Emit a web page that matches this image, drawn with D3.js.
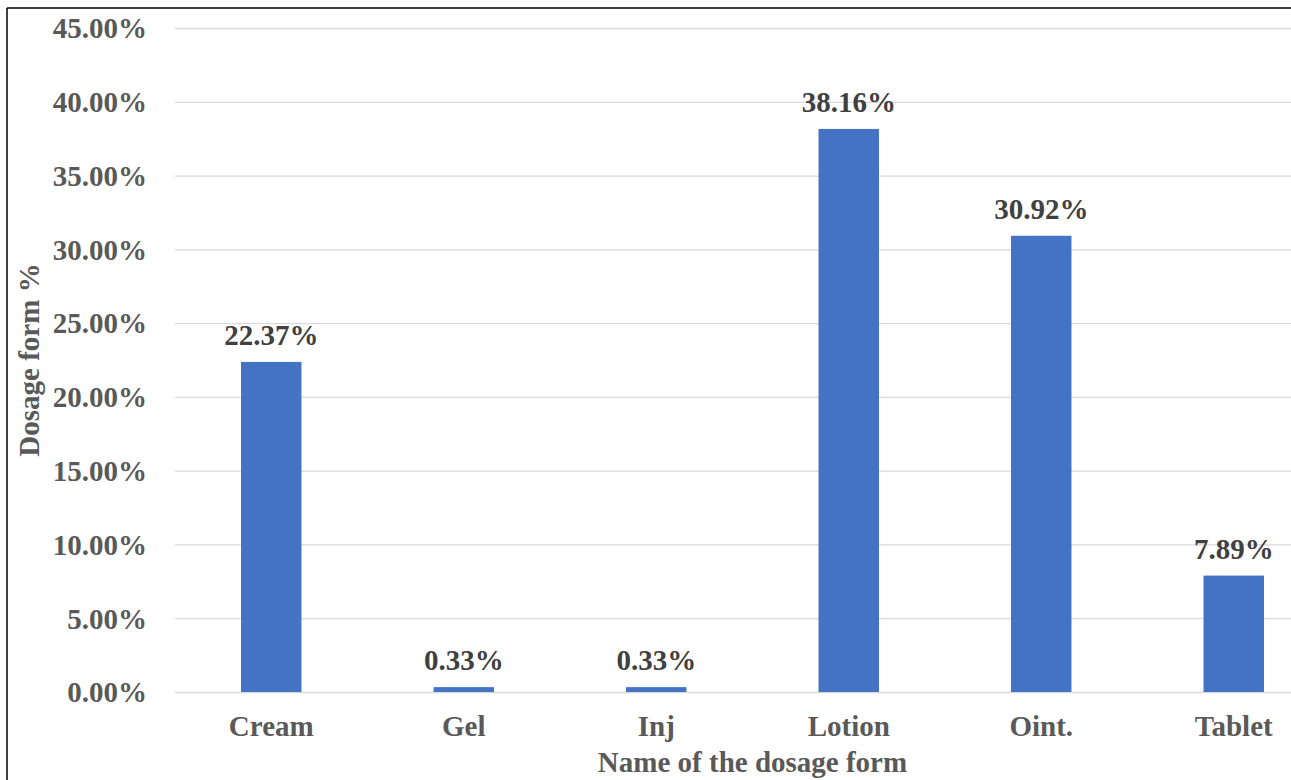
<!DOCTYPE html>
<html>
<head>
<meta charset="utf-8">
<script src="https://cdn.jsdelivr.net/npm/d3@7"></script>
<style>
  html, body { margin: 0; padding: 0; background: #fff; }
  svg { display: block; }
  text { font-family: "Liberation Serif", "Times New Roman", serif; font-weight: bold; }
</style>
</head>
<body>
<script>
// Share of each dosage form
const categories = ["Cream", "Gel", "Inj", "Lotion", "Oint.", "Tablet"];
const values = [22.37, 0.33, 0.33, 38.16, 30.92, 7.89];
const yTicks = [0, 5, 10, 15, 20, 25, 30, 35, 40, 45];
const yTitle = "Dosage form %";
const xTitle = "Name of the dosage form";

const W = 1291, H = 780;
const svg = d3.select("body").append("svg").attr("width", W).attr("height", H);

// Plot area (continues past the right edge of the frame)
const plot = { left: 175, right: 1330, top: 28, bottom: 692 };

const x = d3.scaleBand()
  .domain(categories)
  .range([plot.left, plot.right])
  .paddingInner(0.686)
  .paddingOuter(0.343);

const y = d3.scaleLinear().domain([0, 45]).range([plot.bottom, plot.top]);

// Outer frame
svg.append("line").attr("x1", 7).attr("x2", W).attr("y1", 8).attr("y2", 8)
  .attr("stroke", "#000").attr("stroke-width", 1.5);
svg.append("line").attr("x1", 7).attr("x2", 7).attr("y1", 8).attr("y2", H)
  .attr("stroke", "#000").attr("stroke-width", 1.5);

// Horizontal gridlines and y tick labels
const yAxis = d3.axisLeft(y)
  .tickValues(yTicks)
  .tickSize(-(plot.right - plot.left))
  .tickPadding(28)
  .tickFormat(d => d.toFixed(2) + "%");

const gy = svg.append("g").attr("transform", `translate(${plot.left},0)`).call(yAxis);
gy.select(".domain").remove();
gy.selectAll(".tick line").attr("stroke", "#d9d9d9").attr("stroke-width", 1.3);
gy.selectAll(".tick text")
  .attr("fill", "#595959")
  .style("font-size", "29px")
  .style("font-family", "'Liberation Serif', 'Times New Roman', serif")
  .style("font-weight", "bold")
  .attr("dy", "0.34em");

// Bars
svg.append("g").selectAll("rect")
  .data(categories)
  .join("rect")
  .attr("x", d => x(d))
  .attr("width", x.bandwidth())
  .attr("y", (d, i) => y(values[i]))
  .attr("height", (d, i) => y(0) - y(values[i]))
  .attr("fill", "#4472C4");

// Value labels above bars
svg.append("g").selectAll("text")
  .data(categories)
  .join("text")
  .attr("x", d => x(d) + x.bandwidth() / 2)
  .attr("y", (d, i) => y(values[i]) - 17)
  .attr("text-anchor", "middle")
  .attr("fill", "#404040")
  .style("font-size", "29px")
  .text((d, i) => values[i].toFixed(2) + "%");

// Category axis labels
const xAxis = d3.axisBottom(x).tickSize(0).tickPadding(23);
const gx = svg.append("g").attr("transform", `translate(0,${plot.bottom})`).call(xAxis);
gx.select(".domain").remove();
gx.selectAll(".tick text")
  .attr("fill", "#595959")
  .style("font-size", "29px")
  .style("font-family", "'Liberation Serif', 'Times New Roman', serif")
  .style("font-weight", "bold");

// Axis titles
svg.append("text")
  .attr("x", (plot.left + plot.right) / 2)
  .attr("y", 772)
  .attr("text-anchor", "middle")
  .attr("fill", "#595959")
  .style("font-size", "29px")
  .text(xTitle);

svg.append("text")
  .attr("transform", `translate(39,${(plot.top + plot.bottom) / 2}) rotate(-90)`)
  .attr("text-anchor", "middle")
  .attr("fill", "#595959")
  .style("font-size", "29px")
  .text(yTitle);
</script>
</body>
</html>
